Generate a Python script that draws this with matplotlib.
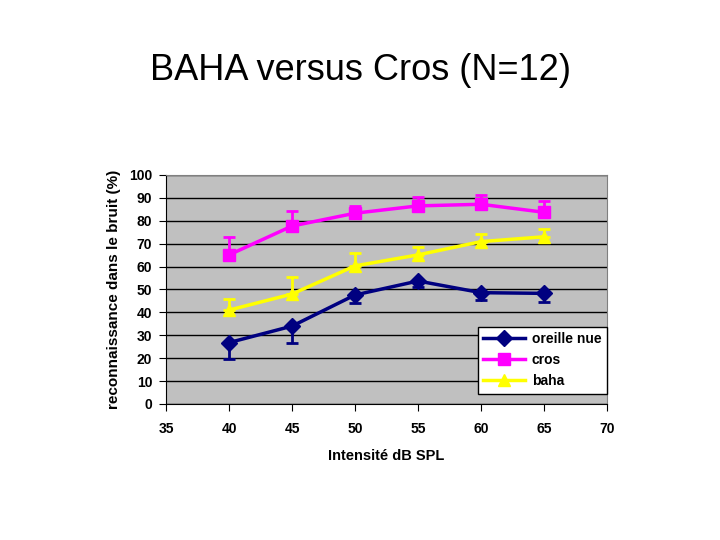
import matplotlib
matplotlib.use('Agg')
import matplotlib.pyplot as plt
from matplotlib.lines import Line2D

plt.rcParams['font.family'] = ['Liberation Sans', 'DejaVu Sans']

x = [40, 45, 50, 55, 60, 65]
oreille_nue = [26.8, 34.0, 47.6, 53.7, 48.6, 48.3]
oreille_err = [7.3, 7.5, 3.6, 2.7, 3.2, 3.6]
cros = [65.1, 77.7, 83.3, 86.5, 87.2, 83.7]
cros_err = [8.0, 6.5, 3.2, 3.7, 4.0, 5.0]
baha = [41.0, 48.0, 60.3, 65.1, 70.9, 73.0]
baha_err = [5.0, 7.5, 5.5, 3.3, 3.2, 3.2]

series = [
    ('oreille nue', oreille_nue, oreille_err, 'below', '#000080', 'D', 8),
    ('cros', cros, cros_err, 'above', '#ff00ff', 's', 8),
    ('baha', baha, baha_err, 'above', '#ffff00', '^', 9),
]

fig = plt.figure(figsize=(7.2, 5.4), dpi=100)
ax = fig.add_axes([0.2306, 0.2519, 0.6125, 0.4241])
ax.set_facecolor('#c0c0c0')

handles = []
for name, vals, err, side, col, mk, ms in series:
    zeros = [0] * len(err)
    yerr = [err, zeros] if side == 'below' else [zeros, err]
    ax.errorbar(x, vals, yerr=yerr, fmt='none', ecolor=col, capsize=4,
                capthick=2, elinewidth=2, zorder=4)
    ax.plot(x, vals, color=col, marker=mk, markersize=ms, linewidth=2.5, zorder=5)
    handles.append(Line2D([], [], color=col, marker=mk, markersize=ms, linewidth=2.5, label=name))

ax.set_xlim(35, 70)
ax.set_ylim(0, 100)
ax.set_xticks(range(35, 71, 5))
ax.set_yticks(range(0, 101, 10))
ax.yaxis.grid(True, color='black', linewidth=1)
ax.set_axisbelow(True)
for s in ['top', 'right']:
    ax.spines[s].set_color('#808080')
for s in ['left', 'bottom']:
    ax.spines[s].set_color('black')
ax.tick_params(axis='both', direction='out', length=5, labelsize=10, pad=5)
ax.tick_params(axis='x', pad=8)
for lab in ax.get_xticklabels() + ax.get_yticklabels():
    lab.set_fontweight('bold')

ax.set_xlabel('Intensité dB SPL', fontsize=10.5, fontweight='bold', labelpad=9)
ax.set_ylabel('reconnaissance dans le bruit (%)', fontsize=11, fontweight='bold', labelpad=6)

fig.text(0.5, 0.87, 'BAHA versus Cros (N=12)', fontsize=26, ha='center', va='center')

leg = ax.legend(handles=handles, loc='lower right', bbox_to_anchor=(1.0, 0.045), frameon=True,
                fancybox=False, edgecolor='black', framealpha=1,
                prop={'weight': 'bold', 'size': 10}, handlelength=3, handletextpad=0.5,
                borderpad=0.4, labelspacing=0.5, borderaxespad=0)
leg.get_frame().set_linewidth(1)

fig.savefig('out.png', dpi=100)
